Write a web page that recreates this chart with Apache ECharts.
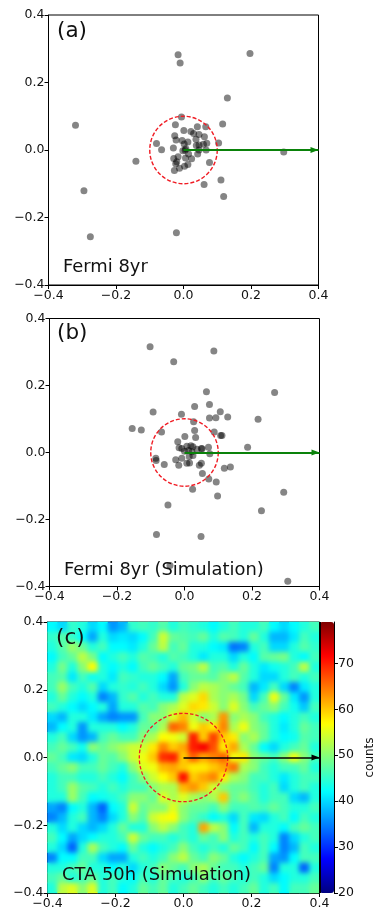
<!DOCTYPE html>
<html>
<head>
<meta charset="utf-8">
<style>html,body{margin:0;padding:0;background:#fff}#c{width:382px;height:921px}</style>
<script src="https://cdn.jsdelivr.net/npm/echarts@6/dist/echarts.min.js"></script>
</head>
<body>
<div id="c"></div>
<script>
const fermiObserved = [[-0.016,0.282],[-0.01,0.258],[0.197,0.286],[0.13,0.154],[-0.32,0.073],[-0.006,0.098],[-0.024,0.075],[0.001,0.058],[0.041,0.069],[0.066,0.069],[0.116,0.077],[0.022,0.055],[0.03,0.049],[0.046,0.046],[0.062,0.039],[-0.026,0.042],[-0.022,0.03],[0.037,0.032],[-0.004,0.028],[0.013,0.024],[0.104,0.021],[0.069,0.02],[-0.08,0.019],[0.059,0.017],[0.038,0.013],[0.046,0.015],[-0.03,0.006],[-0.065,0.001],[0.002,0.018],[0.007,0.004],[-0.002,-0.002],[0.005,-0.001],[0.067,0],[0.046,0],[0.297,-0.006],[0.042,-0.012],[0.015,-0.012],[0.006,-0.024],[0.024,-0.026],[-0.029,-0.025],[-0.016,-0.02],[-0.02,-0.035],[-0.141,-0.033],[0.077,-0.037],[-0.023,-0.041],[0.013,-0.043],[0.003,-0.048],[-0.012,-0.054],[-0.027,-0.061],[0.111,-0.089],[0.061,-0.102],[0.119,-0.138],[-0.295,-0.121],[-0.021,-0.245],[-0.276,-0.257]];
const fermiSimulated = [[-0.102,0.316],[0.087,0.303],[-0.032,0.271],[0.065,0.181],[0.267,0.179],[0.03,0.137],[0.074,0.143],[-0.093,0.121],[-0.009,0.114],[0.106,0.122],[0.074,0.103],[0.093,0.104],[0.128,0.106],[0.218,0.099],[0.027,0.092],[-0.155,0.072],[-0.128,0.067],[-0.068,0.061],[0.03,0.066],[0.088,0.061],[0.107,0.051],[0.111,0.051],[0.001,0.048],[0.033,0.045],[-0.02,0.032],[0.187,0.016],[0.071,0.016],[-0.016,0.014],[-0.008,0.012],[0.007,0.019],[0.019,0.02],[0.025,0.017],[0.037,0.01],[0.05,0.012],[0.052,0.011],[0,0.004],[0.012,0.006],[0.022,0.002],[0.075,-0.004],[0.014,-0.012],[0.025,-0.009],[-0.008,-0.017],[-0.026,-0.022],[-0.085,-0.017],[-0.084,-0.024],[-0.06,-0.036],[-0.017,-0.038],[0.007,-0.032],[0.015,-0.031],[0.044,-0.038],[0.05,-0.032],[0.053,-0.063],[0.072,-0.079],[0.118,-0.047],[0.136,-0.043],[0.094,-0.088],[0.024,-0.11],[0.098,-0.13],[-0.049,-0.157],[0.294,-0.119],[0.228,-0.174],[-0.083,-0.245],[0.049,-0.251],[-0.043,-0.337],[0.306,-0.384]];
const ctaCounts = [
[42,40,45,44,40,42,36,38,45,46,45,47,44,46,45,44,42,44,46,44,44,46,42,40,42,44,46],
[45,47,45,42,37,44,40,41,40,42,46,54,48,47,46,48,44,47,46,44,48,44,38,38,41,46,44],
[44,47,51,48,44,46,42,42,41,44,48,53,46,48,44,44,42,41,34,35,44,46,40,40,44,47,45],
[42,46,48,53,49,42,44,46,44,47,46,44,47,46,44,41,44,44,40,44,42,47,48,49,44,42,46],
[44,49,44,50,57,44,42,44,42,46,48,46,44,48,49,53,46,47,44,48,44,41,43,44,46,53,44],
[46,47,41,46,43,44,41,46,45,44,44,42,37,46,48,48,47,50,53,47,44,40,40,44,46,44,46],
[46,51,46,44,47,40,44,45,44,46,44,40,36,44,50,53,52,50,48,46,38,41,46,40,35,41,44],
[44,48,44,42,44,35,38,45,47,44,46,44,44,53,55,59,52,50,52,49,40,46,56,48,41,36,44],
[46,44,42,40,42,44,37,44,44,47,46,50,52,55,59,58,54,50,55,50,46,48,50,46,43,39,46],
[40,38,44,44,41,37,35,36,36,46,50,50,55,61,54,50,52,63,50,52,50,46,44,42,44,46,44],
[38,42,44,36,44,44,44,42,44,48,48,52,66,64,56,60,58,64,52,56,50,48,44,41,44,48,46],
[44,46,40,36,38,46,48,46,46,50,52,57,56,54,70,60,68,60,58,50,52,48,44,42,43,47,46],
[46,48,46,43,50,48,50,52,54,54,58,64,60,62,70,72,67,58,62,52,48,42,40,44,46,48,44],
[48,46,41,40,44,48,47,50,54,56,60,69,70,60,66,62,64,66,56,58,50,48,46,50,56,50,46],
[46,48,50,46,46,48,46,44,50,55,56,61,62,60,58,58,60,62,65,52,50,46,44,46,46,48,44],
[44,46,46,44,44,46,44,42,46,50,54,57,60,71,60,62,64,58,52,50,46,46,44,41,44,46,46],
[44,46,51,47,46,44,46,44,46,46,50,52,52,61,63,60,54,50,48,48,46,44,46,40,44,46,44],
[44,44,51,46,42,43,44,46,50,50,48,55,52,55,52,50,52,60,48,50,47,44,46,46,40,38,44],
[37,35,42,44,38,33,42,44,54,48,50,50,55,50,48,48,46,50,46,46,47,46,48,46,44,44,46],
[35,38,44,46,38,35,40,44,50,47,54,56,57,50,47,45,42,44,40,46,41,40,44,46,42,46,44],
[44,40,44,40,38,40,44,48,44,44,50,53,50,46,44,62,53,50,42,46,38,44,44,42,46,48,46],
[46,42,37,40,42,44,44,46,54,48,46,46,44,46,44,48,46,50,44,46,44,46,44,35,40,44,46],
[44,40,33,44,52,46,44,42,48,44,42,44,46,50,46,44,46,44,48,46,42,46,42,35,38,46,44],
[35,42,42,46,46,40,37,37,44,46,44,46,50,53,48,46,50,48,44,42,44,46,37,36,42,46,46],
[44,44,46,48,44,44,42,44,40,44,46,50,48,46,50,52,48,46,46,44,46,48,35,44,44,33,44],
[46,48,44,46,48,44,46,44,42,46,44,48,46,44,46,50,46,48,46,44,46,44,40,42,44,44,46],
[44,53,55,50,55,44,46,42,44,48,46,48,44,46,48,46,44,46,44,46,48,44,46,42,46,46,48]
];
const axisTicks = [-0.4,-0.2,0,0.2,0.4];
const colorTicks = [20,30,40,50,60,70];
const colorMax = 79;
const panelLabels = ['(a)','(b)','(c)'];
const panelTitles = ['Fermi 8yr','Fermi 8yr (Simulation)','CTA 50h (Simulation)'];

const FONT = '"DejaVu Sans"';
const TXT = '#111';
const grids = [
  {left:48.5,top:15,width:270,height:270},
  {left:49.5,top:318.5,width:270,height:268},
  {left:47.5,top:622,width:272,height:271},
  {left:319.5,top:622,width:14.5,height:271}
];
const fmt = v => (v<0?'\u2212':'')+Math.abs(v).toFixed(1);
const valAxis = i => ({
  type:'value',gridIndex:i,min:axisTicks[0],max:axisTicks[4],interval:axisTicks[3]-axisTicks[2],
  splitLine:{show:false},
  axisLine:{show:true,onZero:false,lineStyle:{color:'#000',width:1}},
  axisTick:{show:true,length:4,lineStyle:{color:'#000',width:1}},
  axisLabel:{formatter:fmt,fontFamily:FONT,fontSize:12.5,color:TXT,margin:4,hideOverlap:false,showMinLabel:true,showMaxLabel:true}
});
const catCount = ctaCounts.length;
const cats = ctaCounts[0].map((_,i)=>i);
const hiddenCat = () => ({type:'category',gridIndex:2,data:cats,show:false});
const heatData = [];
ctaCounts.forEach((row,r)=>row.forEach((v,c)=>heatData.push([c,catCount-1-r,v])));

const circle = (xi,yi,radius,width,dash,z) => ({
  type:'custom',coordinateSystem:'cartesian2d',xAxisIndex:xi,yAxisIndex:yi,zlevel:z,z:5,silent:true,
  data:[[0,0,radius]],clip:false,
  renderItem:(p,api)=>{
    const c=api.coord([api.value(0),api.value(1)]);
    const r=api.size([api.value(2),0])[0];
    return {type:'circle',shape:{cx:c[0],cy:c[1],r},style:{fill:null,stroke:'#f01c24',lineWidth:width,lineDash:dash}};
  }
});
const arrow = (xi,yi,color,width,z,extra) => ({
  type:'scatter',xAxisIndex:xi,yAxisIndex:yi,zlevel:z,z:6,data:[],silent:true,
  markLine:{zlevel:z,z:6,silent:true,animation:false,symbol:['none','triangle'],symbolSize:[6,8],symbolOffset:[0,[0,4]],precision:4,
    label:{show:false},emphasis:{disabled:true},
    lineStyle:{color,width,type:'solid'},
    data:[[{coord:[0,0]},{coord:[axisTicks[4],0]}]].concat(extra||[])}
});
const dots = (xi,yi,d) => ({
  type:'scatter',xAxisIndex:xi,yAxisIndex:yi,data:d,symbolSize:7,silent:true,
  itemStyle:{color:'#000',opacity:0.48,borderWidth:0}
});
const txt = (x,y,s,size) => ({type:'text',left:x,top:y-size*0.6,silent:true,zlevel:3,
  style:{text:s,font:size+'px '+FONT,fill:TXT}});

const option = {
  animation:false,backgroundColor:'#fff',
  grid:grids.map((g,i)=>Object.assign({show:i<3,borderColor:'#000',borderWidth:1,backgroundColor:'transparent',containLabel:false},g)),
  xAxis:[
    valAxis(0),valAxis(1),valAxis(2),
    hiddenCat(),
    {type:'value',gridIndex:3,show:false,min:0,max:1}
  ],
  yAxis:[
    valAxis(0),valAxis(1),valAxis(2),
    hiddenCat(),
    {type:'value',gridIndex:3,position:'right',min:colorTicks[0],max:colorMax,interval:10,
     splitLine:{show:false},
     axisLine:{show:true,onZero:false,lineStyle:{color:'#000',width:1}},
     axisTick:{show:true,length:4,lineStyle:{color:'#000',width:1}},
     axisLabel:{fontFamily:FONT,fontSize:12.5,color:TXT,margin:4,showMaxLabel:false,showMinLabel:true},
     name:'counts',nameLocation:'middle',nameRotate:90,nameGap:30,
     nameTextStyle:{fontFamily:FONT,fontSize:12,color:TXT}}
  ],
  visualMap:[{
    type:'continuous',seriesIndex:[0,1],min:colorTicks[0],max:colorMax,show:true,
    left:grids[3].left,top:grids[3].top,itemWidth:grids[3].width,itemHeight:grids[3].height,
    padding:0,text:null,calculable:false,hoverLink:false,showLabel:false,
    inRange:{color:['#00007f','#0000ff','#007fff','#00ffff','#7fff7f','#ffff00','#ff7f00','#ff0000','#7f0000']}
  }],
  series:[
    {type:'heatmap',xAxisIndex:3,yAxisIndex:3,data:heatData,silent:true,progressive:0,zlevel:0,z:1},
    {type:'heatmap',xAxisIndex:3,yAxisIndex:3,data:heatData,silent:true,progressive:0,zlevel:1,z:1},
    dots(0,0,fermiObserved),
    circle(0,0,0.1,1.4,[4,2],0),
    arrow(0,0,'#0a820a',2,0),
    dots(1,1,fermiSimulated),
    circle(1,1,0.1,1.4,[4,2],0),
    arrow(1,1,'#0a820a',2,0),
    circle(2,2,0.13,1.3,[3.5,2],2),
    arrow(2,2,'#000',1.5,2,[[{coord:[axisTicks[4],axisTicks[0]],symbol:'none'},{coord:[axisTicks[4],axisTicks[4]],symbol:'none',lineStyle:{width:2,color:'#000'}}]])
  ],
  graphic:[
    txt(57,33,panelLabels[0],21.5),txt(63,269,panelTitles[0],17.9),
    txt(57,335,panelLabels[1],21.5),txt(64,572,panelTitles[1],17.9),
    txt(56,640,panelLabels[2],21.5),txt(62,877,panelTitles[2],17.9)
  ]
};
const chart = echarts.init(document.getElementById('c'),null,{renderer:'canvas',width:382,height:921});
chart.setOption(option);
const g=grids[2];
const layer=document.querySelector('canvas[data-zr-dom-id="zr_1"]');
if(layer){
  layer.style.filter='blur(2.8px)';
  layer.style.clipPath=`inset(${g.top+1}px ${382-g.left-g.width}px ${921-g.top-g.height+1}px ${g.left+1}px)`;
}
</script>
</body>
</html>
